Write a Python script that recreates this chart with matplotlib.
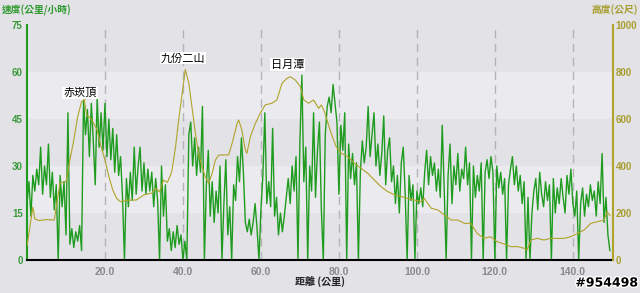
import numpy as np
import matplotlib
matplotlib.use('Agg')
import matplotlib.pyplot as plt
import matplotlib.patheffects as pe

plt.rcParams['font.family'] = ['Noto Sans CJK TC', 'DejaVu Sans']

# speed (km/h), one reading every 0.5 km
speed = [
    18, 25, 14, 27, 22, 29, 24, 36, 21, 30, 24, 37, 20, 28, 16, 24, 0, 27, 17, 25,
    8, 47, 5, 10, 4, 9, 6, 11, 3, 51, 40, 48, 33, 50, 38, 24, 52, 36, 47, 35,
    50, 33, 45, 32, 42, 28, 40, 27, 33, 20, 0, 26, 17, 28, 19, 36, 21, 30, 36, 22,
    31, 21, 29, 22, 28, 17, 26, 19, 0, 30, 14, 24, 6, 10, 3, 9, 4, 11, 5, 8,
    0, 6, 0, 40, 44, 30, 39, 27, 36, 28, 49, 0, 24, 35, 14, 25, 12, 22, 15, 30,
    0, 18, 32, 8, 17, 0, 24, 19, 33, 25, 39, 28, 12, 9, 13, 8, 12, 18, 10, 0,
    16, 27, 47, 18, 25, 17, 42, 14, 20, 8, 15, 9, 14, 20, 26, 18, 30, 22, 33, 0,
    38, 59, 25, 36, 0, 30, 22, 47, 20, 35, 44, 16, 0, 40, 49, 52, 47, 56, 50, 44,
    21, 43, 35, 47, 0, 37, 26, 34, 24, 31, 0, 28, 38, 31, 36, 49, 33, 40, 47, 30,
    37, 27, 34, 46, 24, 35, 39, 25, 30, 18, 27, 15, 31, 36, 21, 0, 27, 19, 24, 0,
    22, 18, 23, 17, 28, 35, 24, 33, 27, 31, 22, 29, 20, 43, 23, 0, 27, 37, 18, 30,
    24, 34, 22, 29, 26, 36, 24, 31, 0, 30, 20, 27, 22, 31, 0, 28, 32, 26, 33, 28,
    0, 30, 23, 28, 21, 26, 0, 24, 29, 33, 24, 30, 22, 27, 18, 25, 0, 20, 0, 15,
    22, 26, 16, 28, 21, 17, 25, 19, 24, 0, 26, 15, 23, 18, 26, 20, 15, 27, 21, 29,
    18, 14, 22, 0, 18, 23, 14, 21, 17, 24, 19, 22, 14, 25, 18, 34, 12, 20, 8, 3,
]
speed_km = np.arange(len(speed)) * 0.5

# altitude (m)
alt_km = [0, 0.5, 1, 1.5, 2, 3, 5, 7, 7.5, 8.5, 10, 11, 12, 13, 14, 14.7, 15.3, 16.5,
          18, 19, 20, 21, 22, 23, 24, 26, 28, 30, 32, 33, 34, 35, 36, 37, 37.2, 38.1,
          38.9, 39.8, 40.6, 41.5, 42.3, 43.2, 44.0, 44.9, 45.7, 46.6, 47.5, 48.3, 49.2,
          51.7, 52.6, 53.9, 54.3, 55.1, 56.0, 56.4, 57.3, 58.6, 59.8, 61.1, 62.8, 64.1,
          65.4, 66.7, 67.5, 68.8, 70.1, 71.0, 72.2, 73.5, 74.8, 75.5, 76.3, 77.2, 78.0,
          79.3, 80.6, 82.3, 84.0, 85.7, 87.4, 89.1, 90.8, 92.5, 94.3, 96.0, 97.7, 99.4,
          101.1, 101.9, 103.7, 105.4, 107.1, 108.8, 110.5, 112.2, 113.8, 115.5, 117.2,
          118.9, 120.6, 122.4, 124.1, 125.8, 127.5, 128.3, 129.2, 130.9, 132.6, 134.3,
          136.0, 137.7, 139.4, 141.2, 142.9, 144.6, 146.3, 148.0, 148.8, 149.5]
alt_m = [60, 113, 170, 225, 175, 168, 172, 170, 225, 330, 333, 425, 510, 610, 674, 680,
         617, 600, 553, 482, 425, 355, 298, 262, 248, 255, 255, 277, 285, 305, 290, 340,
         330, 369, 383, 482, 596, 709, 811, 752, 652, 539, 454, 397, 355, 326, 369, 425,
         447, 447, 496, 582, 596, 553, 468, 454, 525, 582, 624, 660, 667, 681, 752, 773,
         780, 766, 738, 681, 667, 681, 645, 660, 631, 582, 539, 482, 454, 440, 411, 390,
         369, 340, 312, 291, 277, 270, 262, 255, 248, 262, 220, 213, 191, 170, 170, 156,
         156, 113, 92, 99, 78, 68, 57, 57, 50, 43, 85, 92, 85, 92, 92, 92, 99, 113, 128,
         156, 163, 170, 205, 190]

peak_names = ['赤崁頂', '九份二山', '日月潭']
peak_km = [14.7, 40.6, 67.5]
peak_alt = [680, 811, 780]

x_ticks = [20, 40, 60, 80, 100, 120, 140]
speed_ticks = [0, 15, 30, 45, 60, 75]
alt_ticks = [0, 200, 400, 600, 800, 1000]

green = '#1f9c1f'
olive = '#b0a42a'
bg = '#e2e2e7'
light = '#ebebef'

fig = plt.figure(figsize=(6.4, 2.93), dpi=100, facecolor=bg)
ax = fig.add_axes([27/640, 1-260/293, 586/640, 235/293])
ax.set_facecolor(bg)
for lo in (15, 45):
    ax.axhspan(lo, lo + 15, color=light, lw=0, zorder=0)
for xt in x_ticks:
    ax.axvline(xt, color='#b4b4b8', lw=1, ls=(0, (6, 4)), zorder=1)

ax.plot(speed_km, speed, color=green, lw=1.0, zorder=2)
ax.set_xlim(0, 150.3)
ax.set_ylim(0, 75)
ax.set_yticks(speed_ticks)
ax.set_xticks(x_ticks)
ax.set_xticklabels([f'{t:.1f}' for t in x_ticks])

ax2 = ax.twinx()
ax2.plot(alt_km, alt_m, color=olive, lw=0.8)
ax2.set_ylim(0, 1000)
ax2.set_yticks(alt_ticks)

for a in (ax, ax2):
    a.spines['top'].set_visible(False)
ax.spines['right'].set_visible(False)
ax2.spines['left'].set_visible(False)
ax2.spines['bottom'].set_visible(False)
ax.spines['left'].set_color(green)
ax.spines['left'].set_linewidth(1.5)
ax2.spines['right'].set_color(olive)
ax2.spines['right'].set_linewidth(1.5)
ax.spines['bottom'].set_color('black')
ax.spines['bottom'].set_linewidth(1.5)

ax.tick_params(axis='y', length=0, pad=3, labelcolor='#3a9a3a', labelsize=7)
ax.tick_params(axis='x', length=0, pad=5, labelcolor='#8a8a8a', labelsize=7.5)
ax2.tick_params(axis='y', length=0, pad=2, labelcolor='#a89e2e', labelsize=7)
for lab in ax.get_yticklabels() + ax.get_xticklabels() + ax2.get_yticklabels():
    lab.set_fontweight('bold')
    lab.set_family('Liberation Sans')

# peak labels
offsets = [(-1.1, 10), (-0.5, 25), (-0.6, 30)]
for name, km, h, (dx, dy) in zip(peak_names, peak_km, peak_alt, offsets):
    ax2.text(km + dx, h + dy, name, ha='center', va='bottom', fontsize=8,
             color='black',
             bbox=dict(boxstyle='square,pad=0.08', fc='white', ec='none'))
ax2.plot([14.7, 16.0], [680, 700], color=olive, lw=0.6)

fig.text(2/640, 1-10/293, '速度(公里/小時)', color='#2e9a2e', fontsize=7,
         fontweight='bold', ha='left', va='center')
fig.text(638/640, 1-10/293, '高度(公尺)', color='#a89e2e', fontsize=7,
         fontweight='bold', ha='right', va='center')
fig.text(320/640, 1-283/293, '距離 (公里)', color='#222222', fontsize=7.2,
         fontweight='bold', ha='center', va='center')
fig.text(638/640, 1-283/293, '#954498', color='black', fontsize=9,
         fontweight='bold', ha='right', va='center', family='DejaVu Sans',
         path_effects=[pe.withStroke(linewidth=2, foreground='white')])

fig.savefig('out.png', dpi=100, facecolor=bg)
